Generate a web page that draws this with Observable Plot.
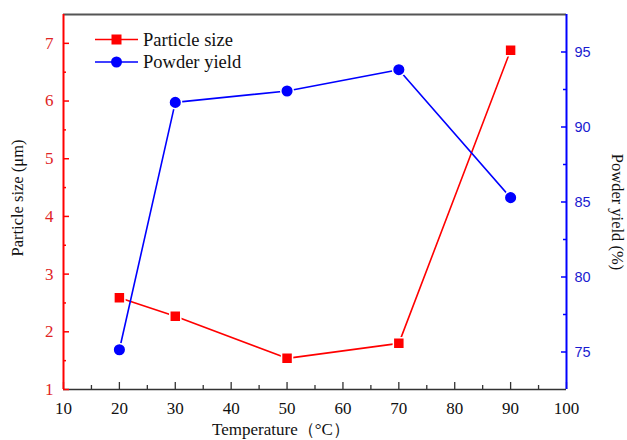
<!DOCTYPE html>
<html>
<head>
<meta charset="utf-8">
<script src="https://cdn.jsdelivr.net/npm/d3@7"></script>
<script src="https://cdn.jsdelivr.net/npm/@observablehq/plot@0.6"></script>
<style>
  html, body { margin: 0; padding: 0; background: #fff; }
  #wrap { position: relative; width: 627px; height: 440px; overflow: hidden; }
  #wrap > svg, #wrap > .overlay { position: absolute; left: 0; top: 0; }
  .overlay { pointer-events: none; }
</style>
</head>
<body>
<div id="wrap"></div>
<script>
// ---- data ----
const temperature = [20, 30, 50, 70, 90];
const particleSize = [2.59, 2.27, 1.54, 1.80, 6.88];
const powderYield = [75.15, 91.64, 92.40, 93.82, 85.29];

const xTicks = [10, 20, 30, 40, 50, 60, 70, 80, 90, 100];
const xMinorTicks = [15, 25, 35, 45, 55, 65, 75, 85, 95];
const leftTicks = [1, 2, 3, 4, 5, 6, 7];
const leftMinorTicks = [1.5, 2.5, 3.5, 4.5, 5.5, 6.5];
const rightTicks = [75, 80, 85, 90, 95];
const rightMinorTicks = [77.5, 82.5, 87.5, 92.5];

const leftDomain = [1, 7.5];
const rightDomain = [72.5, 97.5];
const xDomain = [10, 100];

const seriesNames = ["Particle size", "Powder yield"];
const RED = "#ff0000";
const BLUE = "#0000ff";
const RED_TXT = "#e02424";
const BLUE_TXT = "#1a1ad0";
const SERIF = "Liberation Serif";
const SANS = "Liberation Sans";

// map right-axis values onto the left (primary) y scale
const toLeft = v => leftDomain[0] + (v - rightDomain[0]) * (leftDomain[1] - leftDomain[0]) / (rightDomain[1] - rightDomain[0]);
const fromLeft = v => rightDomain[0] + (v - leftDomain[0]) * (rightDomain[1] - rightDomain[0]) / (leftDomain[1] - leftDomain[0]);

const sizeData = temperature.map((t, i) => ({t, v: particleSize[i]}));
const yieldData = temperature.map((t, i) => ({t, v: toLeft(powderYield[i])}));

const W = 627, H = 440;
const chart = Plot.plot({
  width: W,
  height: H,
  marginLeft: 63,
  marginRight: 61,
  marginTop: 14,
  marginBottom: 51,
  style: {fontFamily: SERIF, fontSize: "16px", background: "white"},
  x: {domain: xDomain, label: null},
  y: {domain: leftDomain, label: null},
  marks: [
    // frame lines
    Plot.ruleY([leftDomain[1]], {stroke: "#555", strokeWidth: 2}),
    Plot.ruleY([leftDomain[0]], {stroke: "#333", strokeWidth: 1.5}),
    // x axis ticks (inward)
    Plot.axisX(xTicks, {anchor: "bottom", tickSize: -7, tickFormat: () => "", stroke: "#333", strokeWidth: 1.3}),
    Plot.axisX(xMinorTicks, {anchor: "bottom", tickSize: -4, tickFormat: () => "", stroke: "#333", strokeWidth: 1.3}),
    Plot.axisX(xTicks, {anchor: "bottom", tickSize: 0, tickPadding: 12, fontSize: 17, fontFamily: SERIF, fill: "#111",
      tickFormat: d => String(d)}),
    // left axis (red)
    Plot.axisY(leftTicks, {anchor: "left", tickSize: -6, tickFormat: () => "", stroke: RED, strokeWidth: 1.5}),
    Plot.axisY(leftMinorTicks, {anchor: "left", tickSize: -3, tickFormat: () => "", stroke: RED, strokeWidth: 1.5}),
    Plot.axisY(leftTicks, {anchor: "left", tickSize: 0, tickPadding: 10, fontSize: 17, fontFamily: SERIF, fill: RED_TXT,
      tickFormat: d => String(d)}),
    Plot.ruleX([xDomain[0]], {stroke: RED, strokeWidth: 2}),
    // right axis (blue)
    Plot.axisY(rightTicks.map(toLeft), {anchor: "right", tickSize: -6, tickFormat: () => "", stroke: BLUE, strokeWidth: 1.5}),
    Plot.axisY(rightMinorTicks.map(toLeft), {anchor: "right", tickSize: -4, tickFormat: () => "", stroke: BLUE, strokeWidth: 1.5}),
    Plot.axisY(rightTicks.map(toLeft), {anchor: "right", tickSize: 0, tickPadding: 8, fontSize: 14.5,
      fontFamily: SANS, fill: BLUE_TXT,
      tickFormat: d => String(Math.round(fromLeft(d)))}),
    Plot.ruleX([xDomain[1]], {stroke: BLUE, strokeWidth: 2}),
    // series
    Plot.line(sizeData, {x: "t", y: "v", stroke: RED, strokeWidth: 1.6}),
    Plot.dot(sizeData, {x: "t", y: "v", symbol: "square", r: 6.2, fill: RED, stroke: "white", strokeWidth: 1.5}),
    Plot.line(yieldData, {x: "t", y: "v", stroke: BLUE, strokeWidth: 1.6}),
    Plot.dot(yieldData, {x: "t", y: "v", symbol: "circle", r: 6.3, fill: BLUE, stroke: "white", strokeWidth: 1.5})
  ]
});

const wrap = document.getElementById("wrap");
wrap.appendChild(chart);

// overlay: axis titles and legend
const ns = "http://www.w3.org/2000/svg";
const ov = d3.select(wrap).append("svg")
  .attr("class", "overlay")
  .attr("xmlns", ns)
  .attr("width", W).attr("height", H)
  .style("font-family", SERIF);

ov.append("text")
  .attr("transform", "translate(23,198) rotate(-90)")
  .attr("text-anchor", "middle")
  .attr("font-size", 16.5).attr("fill", "#111")
  .text("Particle size (μm)");

ov.append("text")
  .attr("transform", "translate(612,212) rotate(90)")
  .attr("text-anchor", "middle")
  .attr("font-size", 16.5).attr("fill", "#111")
  .text("Powder yield (%)");

ov.append("text")
  .attr("x", 281).attr("y", 435)
  .attr("text-anchor", "middle")
  .attr("font-size", 17).attr("fill", "#111")
  .text("Temperature（°C）");

// legend
const legendRows = [
  {name: seriesNames[0], color: RED, shape: "square", y: 39.5},
  {name: seriesNames[1], color: BLUE, shape: "circle", y: 62}
];
legendRows.forEach(row => {
  ov.append("line").attr("x1", 95).attr("x2", 138).attr("y1", row.y).attr("y2", row.y)
    .attr("stroke", row.color).attr("stroke-width", 1.6);
  if (row.shape === "square") {
    ov.append("rect").attr("x", 116.5 - 5).attr("y", row.y - 5).attr("width", 10).attr("height", 10)
      .attr("fill", row.color);
  } else {
    ov.append("circle").attr("cx", 116.5).attr("cy", row.y).attr("r", 5.5).attr("fill", row.color);
  }
  ov.append("text").attr("x", 143).attr("y", row.y).attr("dy", "0.35em")
    .attr("font-size", 18.5).attr("fill", "#111")
    .text(row.name);
});
</script>
</body>
</html>
